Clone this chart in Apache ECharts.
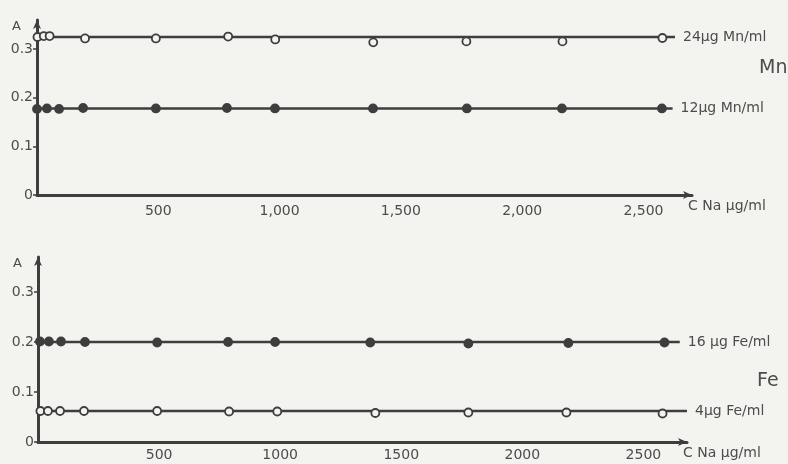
<!DOCTYPE html>
<html>
<head>
<meta charset="utf-8">
<title>A vs C Na</title>
<script src="https://cdn.jsdelivr.net/npm/echarts@6/dist/echarts.min.js"></script>
<style>
	html, body { margin: 0; padding: 0; background: #f3f3f0; }
	#chart { width: 788px; height: 464px; }
</style>
</head>
<body>
<div id="chart"></div>
<script>
// tick labels
var xLabelsMn = ['', '500', '1,000', '1,500', '2,000', '2,500'];
var xLabelsFe = ['', '500', '1000', '1500', '2000', '2500'];
var yLabels = ['0', '0.1', '0.2', '0.3'];

// Mn panel, C Na (µg/ml) and absorbance
var mn24X = [2, 28, 52, 198, 490, 788, 982, 1386, 1770, 2166, 2578];
var mn24Y = [0.325, 0.327, 0.327, 0.322, 0.322, 0.326, 0.320, 0.314, 0.316, 0.316, 0.323];
var mn12X = [0, 41, 91, 190, 490, 783, 981, 1385, 1772, 2164, 2576];
var mn12Y = [0.177, 0.178, 0.177, 0.179, 0.178, 0.179, 0.178, 0.178, 0.178, 0.178, 0.178];

// Fe panel
var fe16X = [8, 45, 95, 194, 492, 785, 979, 1372, 1777, 2190, 2587];
var fe16Y = [0.201, 0.201, 0.201, 0.200, 0.199, 0.200, 0.200, 0.199, 0.197, 0.198, 0.199];
var fe4X = [10, 41, 91, 190, 492, 789, 988, 1393, 1777, 2182, 2579];
var fe4Y = [0.062, 0.062, 0.062, 0.062, 0.062, 0.061, 0.061, 0.058, 0.059, 0.059, 0.057];

// drawn levels: [level, x where the line stops]
var mn24Line = [0.325, 2630];
var mn12Line = [0.178, 2620];
var fe16Line = [0.200, 2650];
var fe4Line = [0.062, 2680];

var ink = '#3e3e3e';
var paper = '#f3f3f0';
var textColor = '#4c4c4c';
var font = 'DejaVu Sans';

function pairs(xs, ys) {
	return xs.map(function (x, i) { return [x, ys[i]]; });
}

function xAxis(idx, max, labels, margin) {
	return {
		type: 'value',
		gridIndex: idx,
		min: 0,
		max: max,
		interval: 500,
		name: 'C Na µg/ml',
		nameLocation: 'end',
		nameGap: -4,
		nameTextStyle: {
			color: textColor, fontFamily: font, fontSize: 14,
			align: 'left', verticalAlign: 'top', padding: [4, 0, 0, 0]
		},
		axisLine: {
			onZero: false,
			symbol: ['none', 'arrow'],
			symbolSize: [6, 9],
			lineStyle: { color: ink, width: 3 }
		},
		axisTick: { show: false },
		splitLine: { show: false },
		axisLabel: {
			color: textColor, fontFamily: font, fontSize: 14, margin: margin,
			showMinLabel: false, showMaxLabel: false,
			formatter: function (v) { return labels[v / 500] || ''; }
		}
	};
}

function yAxis(idx, max) {
	return {
		type: 'value',
		gridIndex: idx,
		min: 0,
		max: max,
		interval: 0.1,
		name: 'A',
		nameLocation: 'end',
		nameGap: 0,
		nameTextStyle: {
			color: textColor, fontFamily: font, fontSize: 13,
			align: 'right', verticalAlign: 'top', padding: [0, 16, 0, 0]
		},
		axisLine: {
			onZero: false,
			symbol: ['none', 'arrow'],
			symbolSize: [6, 9],
			lineStyle: { color: ink, width: 3 }
		},
		axisTick: { show: true, length: 4, lineStyle: { color: ink, width: 1.5 } },
		splitLine: { show: false },
		axisLabel: {
			color: textColor, fontFamily: font, fontSize: 14, margin: 4,
			showMaxLabel: false,
			formatter: function (v) { return yLabels[Math.round(v * 10)] || ''; }
		}
	};
}

function levelLine(idx, name, line) {
	return {
		type: 'line',
		name: name,
		xAxisIndex: idx,
		yAxisIndex: idx,
		data: [[0, line[0]], [line[1], line[0]]],
		symbol: 'none',
		silent: true,
		lineStyle: { color: ink, width: 2.5 },
		endLabel: {
			show: true,
			formatter: name,
			distance: 8,
			color: textColor,
			fontFamily: font,
			fontSize: 14
		},
		z: 2
	};
}

function points(idx, xs, ys, filled) {
	return {
		type: 'scatter',
		xAxisIndex: idx,
		yAxisIndex: idx,
		data: pairs(xs, ys),
		symbol: 'circle',
		symbolSize: 8,
		itemStyle: {
			color: filled ? ink : paper,
			borderColor: ink,
			borderWidth: 1.8,
			opacity: 1
		},
		z: 3
	};
}

var option = {
	backgroundColor: paper,
	animation: false,
	title: [
		{ text: 'Mn', left: 754, top: 54, textStyle: { color: textColor, fontFamily: font, fontSize: 19, fontWeight: 'normal' } },
		{ text: 'Fe', left: 752, top: 367, textStyle: { color: textColor, fontFamily: font, fontSize: 19, fontWeight: 'normal' } }
	],
	grid: [
		{ left: 37, top: 20, width: 655, height: 175 },
		{ left: 38, top: 257, width: 649, height: 185 }
	],
	xAxis: [
		xAxis(0, 2700, xLabelsMn, 9),
		xAxis(1, 2680, xLabelsFe, 6)
	],
	yAxis: [
		yAxis(0, 0.36),
		yAxis(1, 0.37)
	],
	series: [
		levelLine(0, '24µg Mn/ml', mn24Line),
		levelLine(0, '12µg Mn/ml', mn12Line),
		levelLine(1, '16 µg Fe/ml', fe16Line),
		levelLine(1, '4µg Fe/ml', fe4Line),
		points(0, mn24X, mn24Y, false),
		points(0, mn12X, mn12Y, true),
		points(1, fe16X, fe16Y, true),
		points(1, fe4X, fe4Y, false)
	]
};

var chart = echarts.init(document.getElementById('chart'));
chart.setOption(option);
</script>
</body>
</html>
